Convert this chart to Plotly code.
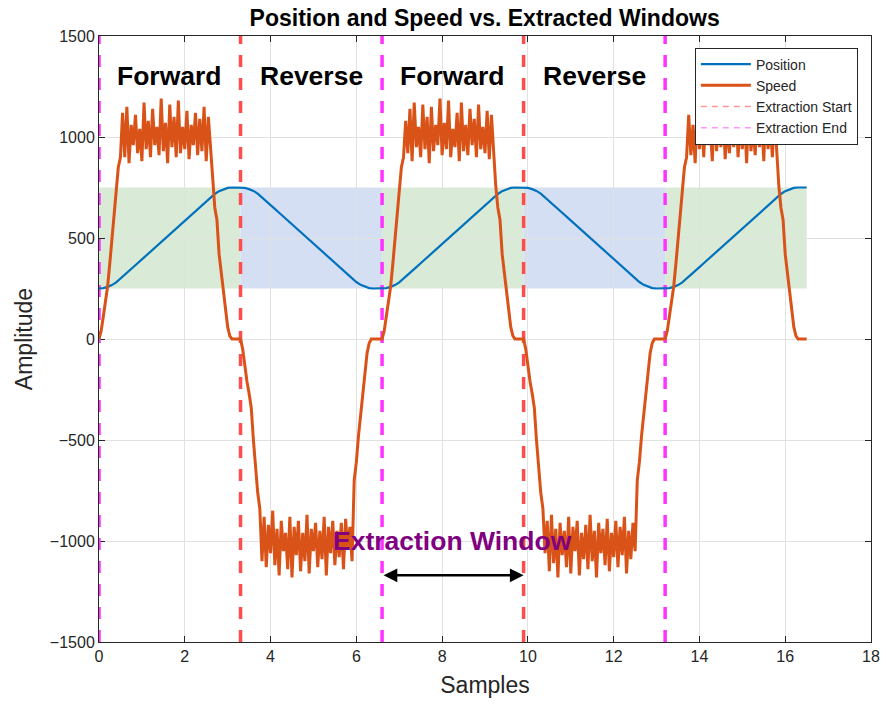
import plotly.graph_objects as go

# ---------------- data ----------------
# position, sampled every 0.1 on the x axis
pos_fwd = [250, 252, 258, 267, 280, 298, 317, 336, 356, 375, 394, 413, 432, 451, 470,
           490, 509, 528, 547, 566, 585, 604, 623, 643, 662, 681, 700, 718, 732, 742,
           748, 750, 750]
pos_rev = [750, 748, 742, 733, 720, 702, 683, 664, 644, 625, 606, 587, 568, 549, 530,
           510, 491, 472, 453, 434, 415, 396, 377, 357, 338, 319, 300, 282, 268, 258,
           252, 250, 250]
pos_end = [750]

# speed, sampled every 0.05 on the x axis
spd_fwd_up = [0, 40, 110, 180, 260, 370, 480, 600, 730, 850, 900]
spd_fwd_down = [760, 650, 590, 420, 330, 230, 130, 60, 15, 0, 0, 0, 0]
spd_rev_down = [0, -50, -140, -210, -270, -340, -500, -640, -760, -840]
spd_rev_up = [-700, -610, -480, -380, -270, -160, -70, -20, 0, 0, 0, 0, 0]

spd_fwd1 = [1120, 900, 1150, 870, 1060, 960, 1110, 920, 1040, 880,
            1170, 940, 1080, 900, 1140, 960, 1050, 910, 1190, 930,
            1070, 870, 1160, 950, 1100, 900, 1180, 920, 1050, 940,
            1130, 890, 1060, 960, 1120, 910, 1090, 930, 1150, 880,
            1100, 950]
spd_rev1 = [-1100, -880, -1130, -920, -1060, -850, -1120, -940, -1170, -900,
            -1050, -960, -1140, -880, -1180, -930, -1070, -900, -1150, -960,
            -1100, -870, -1160, -940, -1050, -910, -1130, -950, -1090, -880,
            -1170, -930, -1060, -900, -1120, -950, -1080, -910, -1140, -890,
            -1040, -930, -1100]
spd_fwd2 = [1080, 920, 1140, 880, 1170, 950, 1050, 900, 1160, 940,
            1100, 870, 1150, 930, 1060, 960, 1190, 910, 1070, 940,
            1180, 900, 1040, 950, 1120, 880, 1170, 930, 1060, 910,
            1140, 960, 1090, 900, 1160, 940, 1050, 920, 1130, 890,
            1110, 940]
spd_rev2 = [-1060, -900, -1150, -870, -1110, -940, -1180, -910, -1070, -950,
            -1130, -880, -1160, -930, -1050, -900, -1170, -960, -1090, -920,
            -1140, -870, -1100, -950, -1180, -910, -1060, -940, -1120, -890,
            -1150, -960, -1080, -900, -1130, -930, -1070, -880, -1160, -950,
            -1090, -910, -1050]
spd_fwd3 = [1110, 910, 1060, 870, 1150, 940, 1090, 900, 1130, 960,
            1050, 880, 1170, 930, 1080, 950, 1140, 890, 1060, 920,
            1120, 950, 1180, 900, 1070, 940, 1110, 870, 1160, 930,
            1040, 910, 1130, 950, 1090, 880, 1150, 940, 1070, 900,
            1120, 930]
spd_end = [0]

extraction_start = [3.3, 9.9]
extraction_end = [0, 6.6, 13.2]
fwd_windows = [(0, 3.3), (6.6, 9.9), (13.2, 16.5)]
rev_windows = [(3.3, 6.6), (9.9, 13.2)]
band_low, band_high = 250, 750

labels = ["Forward", "Reverse", "Forward", "Reverse"]
label_x = [1.65, 4.95, 8.25, 11.55]
label_y = 1300
window_text = "Extraction Window"
window_text_pos = (8.25, -1000)
arrow_span = [6.6, 9.9]
arrow_y = -1170

# -------------- assemble series --------------
position = pos_fwd + pos_rev + pos_fwd + pos_rev + pos_fwd + pos_end
pos_x = [round(i * 0.1, 2) for i in range(len(position))]

speed = (spd_fwd_up + spd_fwd1 + spd_fwd_down +
         spd_rev_down + spd_rev1 + spd_rev_up +
         spd_fwd_up + spd_fwd2 + spd_fwd_down +
         spd_rev_down + spd_rev2 + spd_rev_up +
         spd_fwd_up + spd_fwd3 + spd_fwd_down + spd_end)
spd_x = [round(i * 0.05, 3) for i in range(len(speed))]

FONT = "Liberation Sans, Arial, Helvetica, sans-serif"
TXT = "#262626"
RED = "rgb(255,77,77)"
MAG = "rgb(255,51,255)"
DASH = "12px,11px"

fig = go.Figure()

# vertical extraction lines (drawn first, below data)
for v in extraction_start:
    fig.add_trace(go.Scatter(x=[v, v], y=[-1500, 1500], mode="lines",
                             line=dict(color=RED, width=3.5, dash=DASH),
                             showlegend=False, hoverinfo="skip"))
for v in extraction_end:
    fig.add_trace(go.Scatter(x=[v, v], y=[-1500, 1500], mode="lines",
                             line=dict(color=MAG, width=3.5, dash=DASH),
                             showlegend=False, hoverinfo="skip"))

fig.add_trace(go.Scatter(x=pos_x, y=position, mode="lines", name="Position",
                         line=dict(color="#0072BD", width=2.2)))
fig.add_trace(go.Scatter(x=spd_x, y=speed, mode="lines", name="Speed",
                         line=dict(color="#D95319", width=3)))
fig.add_trace(go.Scatter(x=[None], y=[None], mode="lines", name="Extraction Start",
                         line=dict(color="rgb(255,150,150)", width=1.5, dash="6px,5px")))
fig.add_trace(go.Scatter(x=[None], y=[None], mode="lines", name="Extraction End",
                         line=dict(color="rgb(255,150,255)", width=1.5, dash="6px,5px")))

shapes = []
for a, b in fwd_windows:
    shapes.append(dict(type="rect", xref="x", yref="y", x0=a, x1=b, y0=band_low, y1=band_high,
                       fillcolor="rgb(217,234,215)", line=dict(width=0), layer="below"))
for a, b in rev_windows:
    shapes.append(dict(type="rect", xref="x", yref="y", x0=a, x1=b, y0=band_low, y1=band_high,
                       fillcolor="rgb(213,223,243)", line=dict(width=0), layer="below"))

annotations = []
for t, xv in zip(labels, label_x):
    annotations.append(dict(x=xv, y=label_y, xref="x", yref="y", text="<b>%s</b>" % t,
                            showarrow=False, font=dict(family=FONT, size=26.5, color="black")))
annotations.append(dict(x=window_text_pos[0], y=window_text_pos[1], xref="x", yref="y",
                        text="<b>%s</b>" % window_text, showarrow=False,
                        font=dict(family=FONT, size=26.5, color="#800080")))
annotations.append(dict(x=arrow_span[1], y=arrow_y, ax=arrow_span[0], ay=arrow_y,
                        xref="x", yref="y", axref="x", ayref="y", text="",
                        showarrow=True, arrowhead=2, startarrowhead=2, arrowside="end+start",
                        arrowwidth=2.5, arrowsize=1.1, startarrowsize=1.1,
                        arrowcolor="black", standoff=0, startstandoff=0))

axis_common = dict(showgrid=True, gridcolor="rgb(225,225,225)", gridwidth=1,
                   zeroline=False, showline=True, linecolor=TXT, linewidth=1,
                   mirror="ticks", ticks="inside", ticklen=6, tickcolor=TXT,
                   automargin=False, layer="below traces",
                   tickfont=dict(family=FONT, size=16, color=TXT))

fig.update_layout(
    width=886, height=704,
    margin=dict(l=99, r=15, t=36, b=62),
    paper_bgcolor="white", plot_bgcolor="white",
    title=dict(text="<b>Position and Speed vs. Extracted Windows</b>",
               x=0.547, xanchor="center", y=0.974, yanchor="middle",
               font=dict(family=FONT, size=23, color="black")),
    xaxis=dict(range=[0, 18], tickvals=list(range(0, 19, 2)),
               title=dict(text="Samples", font=dict(family=FONT, size=23, color=TXT), standoff=12),
               **axis_common),
    yaxis=dict(range=[-1500, 1500], tickvals=list(range(-1500, 1501, 500)),
               title=dict(text="Amplitude", font=dict(family=FONT, size=23, color=TXT), standoff=10),
               **axis_common),
    legend=dict(x=0.983, xanchor="right", y=0.981, yanchor="top",
                bgcolor="white", bordercolor=TXT, borderwidth=1,
                font=dict(family=FONT, size=14, color=TXT),
                tracegroupgap=0, itemwidth=50),
    shapes=shapes, annotations=annotations, showlegend=True,
)

fig.write_html("out.html",
               config={"displayModeBar": False},
               post_script="document.body.style.margin='0px';"
                           "document.body.style.overflow='hidden';")
